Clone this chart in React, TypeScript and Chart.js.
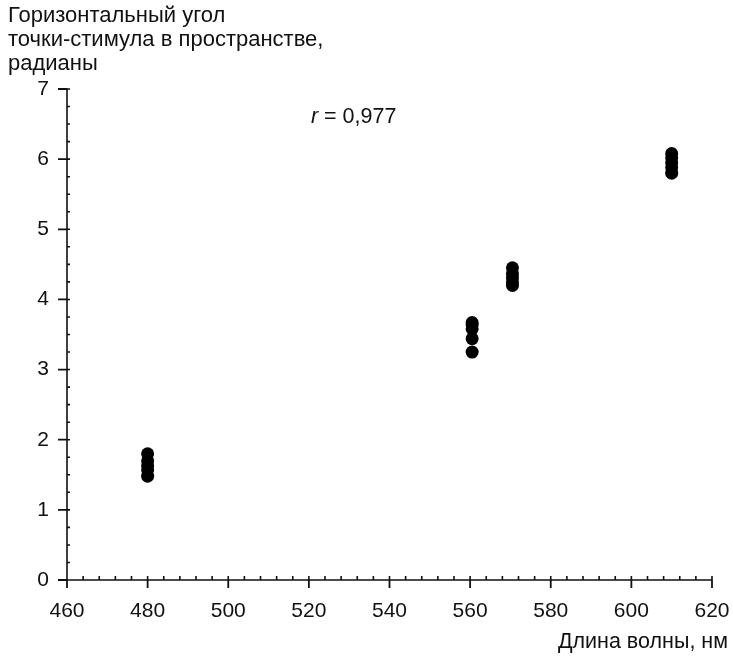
import React, { useEffect, useRef } from "react";
import { Chart, registerables } from "chart.js";

Chart.register(...registerables);

const wavelengths = [480, 560.5, 570.5, 610];
const angles480 = [1.48, 1.57, 1.63, 1.7, 1.8];
const angles561 = [3.25, 3.44, 3.58, 3.64, 3.67];
const angles570 = [4.2, 4.25, 4.31, 4.37, 4.45];
const angles610 = [5.8, 5.88, 5.95, 6.02, 6.08];
const xTicks = [460, 480, 500, 520, 540, 560, 580, 600, 620];
const yTicks = [0, 1, 2, 3, 4, 5, 6, 7];
const yTitleLines = ["Горизонтальный угол", "точки-стимула в пространстве,", "радианы"];
const xTitle = "Длина волны, нм";
const rLabel = { name: "r", value: " = 0,977", x: 520.5, y: 6.6 };

const FONT = '"Liberation Sans", Arial, Helvetica, sans-serif';

export default function App() {
  const ref = useRef<HTMLCanvasElement | null>(null);

  useEffect(() => {
    if (!ref.current) return;
    const groups = [angles480, angles561, angles570, angles610];
    const points: { x: number; y: number }[] = [];
    groups.forEach((g, i) => g.forEach((v) => points.push({ x: wavelengths[i], y: v })));

    const axesPlugin = {
      id: "customAxes",
      afterDatasetsDraw(chart: any) {
        const ctx = chart.ctx as CanvasRenderingContext2D;
        const xs = chart.scales.x;
        const ys = chart.scales.y;
        const x0 = xs.getPixelForValue(460);
        const x1 = xs.getPixelForValue(620);
        const y0 = ys.getPixelForValue(0);
        const y1 = ys.getPixelForValue(7);
        ctx.save();
        ctx.strokeStyle = "#111";
        ctx.fillStyle = "#111";
        ctx.lineWidth = 1.6;
        ctx.beginPath();
        ctx.moveTo(x0, y0);
        ctx.lineTo(x1, y0);
        ctx.moveTo(x0, y0);
        ctx.lineTo(x0, y1);
        for (let v = 460; v <= 620; v += 4) {
          const p = xs.getPixelForValue(v);
          ctx.moveTo(p, y0);
          ctx.lineTo(p, y0 - 4);
        }
        for (let v = 0; v <= 7.001; v += 0.25) {
          const p = ys.getPixelForValue(v);
          ctx.moveTo(x0, p);
          ctx.lineTo(x0 + 3, p);
        }
        ctx.stroke();
        ctx.lineWidth = 1.8;
        ctx.beginPath();
        xTicks.forEach((v) => {
          const p = xs.getPixelForValue(v);
          ctx.moveTo(p, y0);
          ctx.lineTo(p, y0 + 8);
        });
        yTicks.forEach((v) => {
          const p = ys.getPixelForValue(v);
          ctx.moveTo(x0, p);
          ctx.lineTo(x0 - 9, p);
        });
        ctx.stroke();

        ctx.font = "21px " + FONT;
        ctx.textBaseline = "middle";
        ctx.textAlign = "center";
        xTicks.forEach((v) => {
          ctx.fillText(String(v), xs.getPixelForValue(v), y0 + 31);
        });
        ctx.textAlign = "right";
        yTicks.forEach((v) => {
          ctx.fillText(String(v), x0 - 18, ys.getPixelForValue(v));
        });

        ctx.font = "22px " + FONT;
        ctx.textAlign = "left";
        yTitleLines.forEach((l, i) => ctx.fillText(l, 8, 16 + i * 24));
        ctx.textAlign = "right";
        ctx.font = "21.5px " + FONT;
        ctx.fillText(xTitle, 728, 642);

        const rx = xs.getPixelForValue(rLabel.x);
        const ry = ys.getPixelForValue(rLabel.y);
        ctx.textAlign = "left";
        ctx.font = "italic 21.5px " + FONT;
        ctx.fillText(rLabel.name, rx, ry);
        const w = ctx.measureText(rLabel.name).width;
        ctx.font = "21.5px " + FONT;
        ctx.fillText(rLabel.value, rx + w, ry);
        ctx.restore();
      },
    };

    const chart = new Chart(ref.current, {
      type: "scatter",
      data: {
        datasets: [
          {
            data: points,
            backgroundColor: "#000",
            borderWidth: 0,
            pointRadius: 6.5,
            pointHoverRadius: 6.5,
          },
        ],
      },
      options: {
        responsive: false,
        animation: false,
        layout: { padding: { left: 67, top: 89, right: 21, bottom: 78 } },
        plugins: { legend: { display: false }, tooltip: { enabled: false } },
        scales: {
          x: { type: "linear", min: 460, max: 620, display: false },
          y: { type: "linear", min: 0, max: 7, display: false },
        },
      },
      plugins: [axesPlugin],
    });
    return () => chart.destroy();
  }, []);

  return (
    <div style={{ position: "fixed", left: 0, top: 0, width: 733, height: 658 }}>
      <canvas ref={ref} width={733} height={658} style={{ display: "block" }} />
    </div>
  );
}
